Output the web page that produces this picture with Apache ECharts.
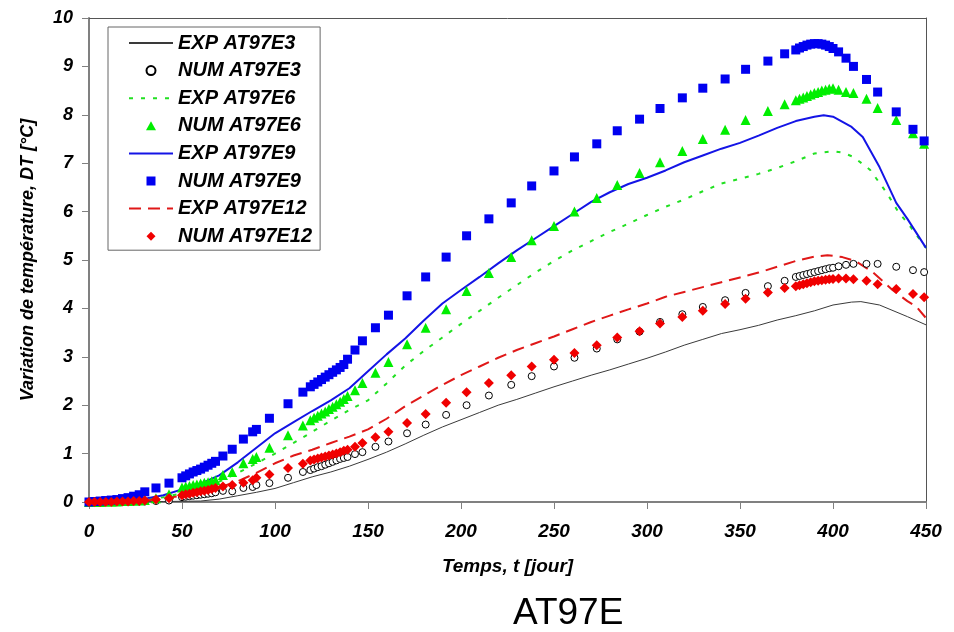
<!DOCTYPE html>
<html>
<head>
<meta charset="utf-8">
<script src="https://cdn.jsdelivr.net/npm/echarts@6/dist/echarts.min.js"></script>
<style>html,body{margin:0;padding:0;background:#fff}#c{width:954px;height:632px}</style>
</head>
<body>
<div id="c"></div>
<script>
// ---- NUM series (shared time samples) ----
const tNum = [0,3,6,9,12,15,18,21,24,27,30,36,43,50,52,54,56,58,60,62,64,66,68,72,77,83,88,90,97,107,115,119,121,123,125,127,129,131,133,135,137,139,143,147,154,161,171,181,192,203,215,227,238,250,261,273,284,296,307,319,330,342,353,365,374,380,382,384,386,388,390,392,394,396,398,400,403,407,411,418,424,434,443,449];
const num3 = [0,0,0,0,0,0,0,0,0.01,0.01,0.01,0.02,0.03,0.1,0.11,0.12,0.13,0.14,0.15,0.16,0.17,0.18,0.2,0.23,0.22,0.29,0.31,0.35,0.39,0.5,0.62,0.66,0.69,0.72,0.74,0.77,0.8,0.83,0.86,0.89,0.91,0.93,0.99,1.03,1.14,1.25,1.42,1.6,1.8,2.0,2.2,2.42,2.6,2.8,2.98,3.17,3.36,3.52,3.72,3.88,4.03,4.17,4.32,4.46,4.57,4.65,4.67,4.69,4.71,4.73,4.75,4.77,4.79,4.81,4.83,4.84,4.87,4.9,4.92,4.92,4.92,4.86,4.79,4.75];
const num6 = [0,0,0,0.01,0.01,0.01,0.02,0.02,0.03,0.03,0.04,0.08,0.16,0.3,0.32,0.33,0.35,0.36,0.38,0.4,0.41,0.43,0.45,0.56,0.62,0.8,0.89,0.93,1.12,1.38,1.58,1.69,1.74,1.78,1.83,1.87,1.92,1.97,2.02,2.07,2.13,2.19,2.31,2.46,2.67,2.89,3.26,3.6,3.98,4.36,4.73,5.06,5.41,5.7,6.0,6.28,6.55,6.8,7.02,7.25,7.5,7.69,7.89,8.08,8.22,8.3,8.33,8.36,8.39,8.42,8.45,8.47,8.5,8.52,8.54,8.55,8.52,8.47,8.45,8.33,8.14,7.89,7.62,7.4];
const num9 = [0,0.01,0.02,0.03,0.04,0.05,0.07,0.09,0.12,0.15,0.21,0.29,0.39,0.5,0.54,0.58,0.62,0.65,0.68,0.72,0.76,0.8,0.84,0.95,1.09,1.3,1.45,1.5,1.73,2.03,2.27,2.38,2.43,2.48,2.53,2.58,2.63,2.68,2.73,2.78,2.84,2.95,3.14,3.33,3.6,3.86,4.26,4.65,5.06,5.5,5.85,6.18,6.53,6.84,7.13,7.4,7.67,7.91,8.13,8.35,8.55,8.74,8.94,9.11,9.26,9.34,9.38,9.41,9.44,9.46,9.47,9.47,9.46,9.44,9.41,9.37,9.3,9.17,9.0,8.73,8.47,8.06,7.7,7.46];
const num12 = [0,0,0,0,0,0.01,0.01,0.01,0.02,0.02,0.03,0.05,0.08,0.14,0.16,0.17,0.19,0.2,0.22,0.23,0.25,0.27,0.29,0.32,0.35,0.4,0.45,0.5,0.57,0.7,0.79,0.86,0.88,0.9,0.92,0.94,0.96,0.98,1.0,1.03,1.06,1.08,1.14,1.22,1.34,1.45,1.63,1.82,2.05,2.27,2.46,2.62,2.8,2.94,3.08,3.24,3.4,3.53,3.69,3.82,3.95,4.09,4.2,4.33,4.42,4.46,4.48,4.5,4.52,4.54,4.56,4.57,4.58,4.59,4.6,4.61,4.62,4.62,4.6,4.57,4.5,4.4,4.3,4.23];

// ---- EXP series ----
const exp3T = [0,20,40,60,70,80,90,100,110,120,130,140,150,160,170,180,190,200,210,220,230,240,250,260,270,280,290,300,310,320,330,340,350,360,370,380,390,400,410,415,425,440,450];
const exp3V = [0,0,0.01,0.02,0.06,0.13,0.2,0.28,0.4,0.52,0.62,0.74,0.88,1.03,1.2,1.38,1.55,1.7,1.85,2.0,2.12,2.25,2.38,2.5,2.62,2.73,2.85,2.97,3.1,3.24,3.36,3.48,3.56,3.65,3.76,3.85,3.95,4.07,4.13,4.14,4.07,3.83,3.66];
const exp6T = [0,10,20,30,40,50,60,70,80,90,100,110,120,130,140,150,160,170,180,190,200,210,220,230,240,250,260,270,280,290,300,310,320,330,340,350,360,370,380,390,400,405,411,420,429,435,441,450];
const exp6V = [0,0,0.02,0.05,0.1,0.18,0.28,0.42,0.6,0.8,1.0,1.22,1.45,1.68,1.9,2.1,2.45,2.82,3.12,3.4,3.68,3.95,4.22,4.48,4.74,4.98,5.2,5.39,5.58,5.75,5.93,6.1,6.25,6.42,6.58,6.68,6.78,6.9,7.04,7.2,7.25,7.22,7.13,6.86,6.38,6.0,5.72,5.25];
const exp9T = [0,10,20,30,40,50,60,70,80,90,100,110,120,130,140,150,160,170,180,190,200,210,220,230,240,250,260,270,280,290,300,310,320,330,340,350,360,370,380,390,395,400,410,416,425,434,440,450];
const exp9V = [0,0.01,0.03,0.07,0.14,0.26,0.38,0.55,0.82,1.12,1.42,1.65,1.88,2.1,2.35,2.7,3.05,3.38,3.75,4.1,4.38,4.65,4.93,5.2,5.45,5.7,5.95,6.2,6.4,6.57,6.7,6.85,7.02,7.16,7.3,7.42,7.57,7.73,7.87,7.96,7.99,7.96,7.75,7.54,6.92,6.18,5.85,5.25];
const exp12T = [0,10,20,30,40,50,60,70,80,90,100,110,120,130,140,150,160,170,180,190,200,210,220,230,240,250,260,270,280,290,300,310,320,330,340,350,360,370,380,390,397,405,412,421,432,440,445,450];
const exp12V = [0,0,0.01,0.03,0.07,0.13,0.2,0.3,0.43,0.6,0.8,0.96,1.08,1.22,1.35,1.5,1.72,1.98,2.2,2.42,2.62,2.8,2.98,3.14,3.28,3.42,3.57,3.72,3.85,3.98,4.1,4.24,4.34,4.44,4.54,4.64,4.74,4.86,4.98,5.07,5.1,5.06,4.98,4.76,4.38,4.15,4.03,3.8];

const seriesNames = ['EXP AT97E3','NUM AT97E3','EXP AT97E6','NUM AT97E6','EXP AT97E9','NUM AT97E9','EXP AT97E12','NUM AT97E12'];
const xTicks = [0,50,100,150,200,250,300,350,400,450];
const yTicks = [0,1,2,3,4,5,6,7,8,9,10];
const titleText = 'AT97E';
const xName = 'Temps, t [jour]';
const yName = 'Variation de température, DT [°C]';

const zip = (a, b) => a.map((x, i) => [x, b[i]]);
const FF = '"Liberation Sans", Arial, sans-serif';

const chart = echarts.init(document.getElementById('c'), null, {renderer: 'canvas'});

function lineS(name, t, v, color, width, type, z) {
  return {name, type: 'line', data: zip(t, v), symbol: 'none', showSymbol: false, smooth: false,
    lineStyle: {color, width, type}, itemStyle: {color}, z, animation: false, xAxisIndex: 0, yAxisIndex: 0};
}
function scatS(name, v, symbol, size, color, border, z) {
  return {name, type: 'scatter', data: zip(tNum, v), symbol, symbolSize: size,
    itemStyle: border ? {color: '#fff', borderColor: border, borderWidth: 1, opacity: 1} : {color, opacity: 1},
    z, animation: false, xAxisIndex: 0, yAxisIndex: 0};
}
const hideSym = {opacity: 0};

const option = {
  backgroundColor: '#fff',
  animation: false,
  title: {text: titleText, left: 513, top: 595, padding: 0,
    textStyle: {fontFamily: FF, fontSize: 37, fontWeight: 'normal', color: '#000'}},
  grid: {left: 89, right: 28, top: 18, bottom: 130, containLabel: false},
  legend: {
    orient: 'vertical', left: 108, top: 27,
    padding: [6, 8, 4, 20], itemWidth: 44, itemHeight: 9, itemGap: 7.6,
    symbolKeepAspect: true,
    borderColor: '#666', borderWidth: 1, backgroundColor: '#fff',
    textStyle: {fontFamily: FF, fontSize: 20, fontWeight: 'bold', fontStyle: 'italic', color: '#000'},
    data: [
      {name: seriesNames[0], itemStyle: hideSym},
      {name: seriesNames[1], icon: 'circle'},
      {name: seriesNames[2], itemStyle: hideSym},
      {name: seriesNames[3], icon: 'path://M5,0L10,9L0,9Z'},
      {name: seriesNames[4], itemStyle: hideSym},
      {name: seriesNames[5], icon: 'path://M0,0L10,0L10,10L0,10Z'},
      {name: seriesNames[6], itemStyle: hideSym},
      {name: seriesNames[7], icon: 'path://M5,0L10,5L5,10L0,5Z'}
    ]
  },
  xAxis: [{
    type: 'value', min: 0, max: 450, interval: 50,
    name: xName, nameLocation: 'middle', nameGap: 55,
    nameTextStyle: {fontFamily: FF, fontSize: 19, fontWeight: 'bold', fontStyle: 'italic', color: '#000'},
    axisLine: {show: true, onZero: false, lineStyle: {color: '#808080', width: 2}},
    axisTick: {show: true, inside: false, length: 7, lineStyle: {color: '#808080', width: 1}},
    axisLabel: {fontFamily: FF, fontSize: 19, fontWeight: 'bold', fontStyle: 'italic', color: '#000', margin: 20},
    splitLine: {show: false}
  }, {
    type: 'value', min: 0, max: 450, position: 'top',
    axisLine: {show: true, onZero: false, lineStyle: {color: '#555', width: 1}},
    axisTick: {show: false}, axisLabel: {show: false}, splitLine: {show: false}
  }],
  yAxis: [{
    type: 'value', min: 0, max: 10, interval: 1,
    name: yName, nameLocation: 'middle', nameGap: 52, nameRotate: 90,
    nameTextStyle: {fontFamily: FF, fontSize: 18, fontWeight: 'bold', fontStyle: 'italic', color: '#000'},
    axisLine: {show: true, onZero: false, lineStyle: {color: '#808080', width: 2}},
    axisTick: {show: true, inside: false, length: 7, lineStyle: {color: '#808080', width: 1}},
    axisLabel: {fontFamily: FF, fontSize: 18, fontWeight: 'bold', fontStyle: 'italic', color: '#000', margin: 16},
    splitLine: {show: false}
  }, {
    type: 'value', min: 0, max: 10, position: 'right',
    axisLine: {show: true, onZero: false, lineStyle: {color: '#555', width: 1}},
    axisTick: {show: false}, axisLabel: {show: false}, splitLine: {show: false}
  }],
  series: [
    lineS(seriesNames[0], exp3T, exp3V, '#3a3a3a', 1, 'solid', 3),
    scatS(seriesNames[1], num3, 'circle', 7, '#000', '#000', 4),
    lineS(seriesNames[2], exp6T, exp6V, '#22e022', 2, [4, 8], 3),
    scatS(seriesNames[3], num6, 'triangle', 10, '#00ee00', null, 4),
    lineS(seriesNames[4], exp9T, exp9V, '#1414e6', 2, 'solid', 3),
    scatS(seriesNames[5], num9, 'rect', 9, '#0000f0', null, 4),
    lineS(seriesNames[6], exp12T, exp12V, '#e01818', 2, [12, 7], 3),
    scatS(seriesNames[7], num12, 'diamond', 10, '#f00000', null, 4)
  ]
};
chart.setOption(option);
</script>
</body>
</html>
